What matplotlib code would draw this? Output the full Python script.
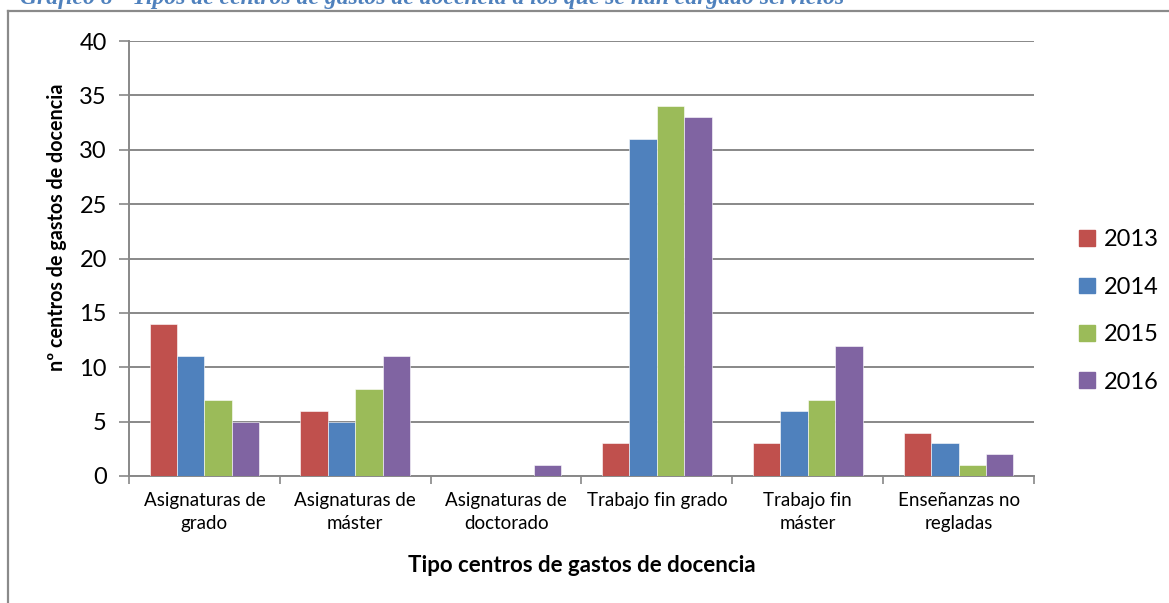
import matplotlib
matplotlib.use("Agg")
import matplotlib.pyplot as plt
from matplotlib.lines import Line2D
import numpy as np

categories = ["Asignaturas de\ngrado", "Asignaturas de\nmáster", "Asignaturas de\ndoctorado",
              "Trabajo fin grado", "Trabajo fin\nmáster", "Enseñanzas no\nregladas"]
years = ["2013", "2014", "2015", "2016"]
v2013 = [14, 6, 0, 3, 3, 4]
v2014 = [11, 5, 0, 31, 6, 3]
v2015 = [7, 8, 0, 34, 7, 1]
v2016 = [5, 11, 1, 33, 12, 2]
series = [v2013, v2014, v2015, v2016]
colors = ["#C0504D", "#4F81BD", "#9BBB59", "#8064A2"]
yticks = [0, 5, 10, 15, 20, 25, 30, 35, 40]

W, H = 1169, 603
plt.rcParams["font.family"] = ["Lato", "DejaVu Sans"]
fig = plt.figure(figsize=(W / 100, H / 100), dpi=100)

ax = fig.add_axes([129 / W, 1 - 476 / H, (1034 - 129) / W, (476 - 41) / H])

x = np.arange(len(categories))
bw = 0.182
for i, (vals, col, yr) in enumerate(zip(series, colors, years)):
    ax.bar(x + (i - 1.5) * bw, vals, width=bw, color=col, label=yr,
           edgecolor="white", linewidth=0.4, zorder=3)

ax.set_xlim(-0.5, len(categories) - 0.5)
ax.set_ylim(0, 40)
ax.set_yticks(yticks)
ax.set_yticklabels([str(t) for t in yticks], fontsize=17)
ax.yaxis.grid(True, color="#888888", linewidth=1.4, zorder=0)
ax.set_axisbelow(True)

# category boundary ticks
ax.set_xticks(np.arange(-0.5, len(categories), 1.0))
ax.set_xticklabels([])
ax.tick_params(axis="x", length=6, color="#888888", width=1.2, direction="out")
ax.tick_params(axis="y", length=7, color="#888888", width=1.2, direction="out", pad=9)
for xi, lab in zip(x, categories):
    ax.text(xi, -1.5, lab, ha="center", va="top", fontsize=13.5,
            linespacing=1.4, transform=ax.transData)

for s in ["top", "right"]:
    ax.spines[s].set_visible(False)
for s in ["left", "bottom"]:
    ax.spines[s].set_color("#888888")
    ax.spines[s].set_linewidth(1.4)

fig.text(57 / W, 1 - 227 / H, "nº centros de gastos de docencia", ha="center", va="center",
         rotation=90, fontsize=14.2, fontweight="bold")
fig.text(582 / W, 1 - 566 / H, "Tipo centros de gastos de docencia", ha="center", va="center",
         fontsize=16, fontweight="bold")

leg = fig.legend(handles=[plt.Rectangle((0, 0), 1, 1, color=c) for c in colors], labels=years,
                 loc="center left", bbox_to_anchor=(1058 / W, 1 - 311 / H), frameon=False,
                 fontsize=17, handlelength=0.65, handleheight=0.65, handletextpad=0.4,
                 labelspacing=1.12)

# outer frame of the chart area
fig.add_artist(Line2D([8 / W, 1.0], [1 - 11 / H, 1 - 11 / H], color="#8A8A8A", linewidth=1.6,
                      transform=fig.transFigure))
fig.add_artist(Line2D([8 / W, 8 / W], [1 - 11 / H, 0.0], color="#8A8A8A", linewidth=1.6,
                      transform=fig.transFigure))

# caption above the chart, partly outside the page
fig.text(20 / W, 1 - 4 / H, "Gráfico 8 - Tipos de centros de gastos de docencia a los que se han cargado servicios",
         ha="left", va="baseline", fontsize=17, color="#4F81BD", fontweight="bold",
         style="italic", family=["Liberation Serif"])

fig.savefig("out.png", dpi=100)
